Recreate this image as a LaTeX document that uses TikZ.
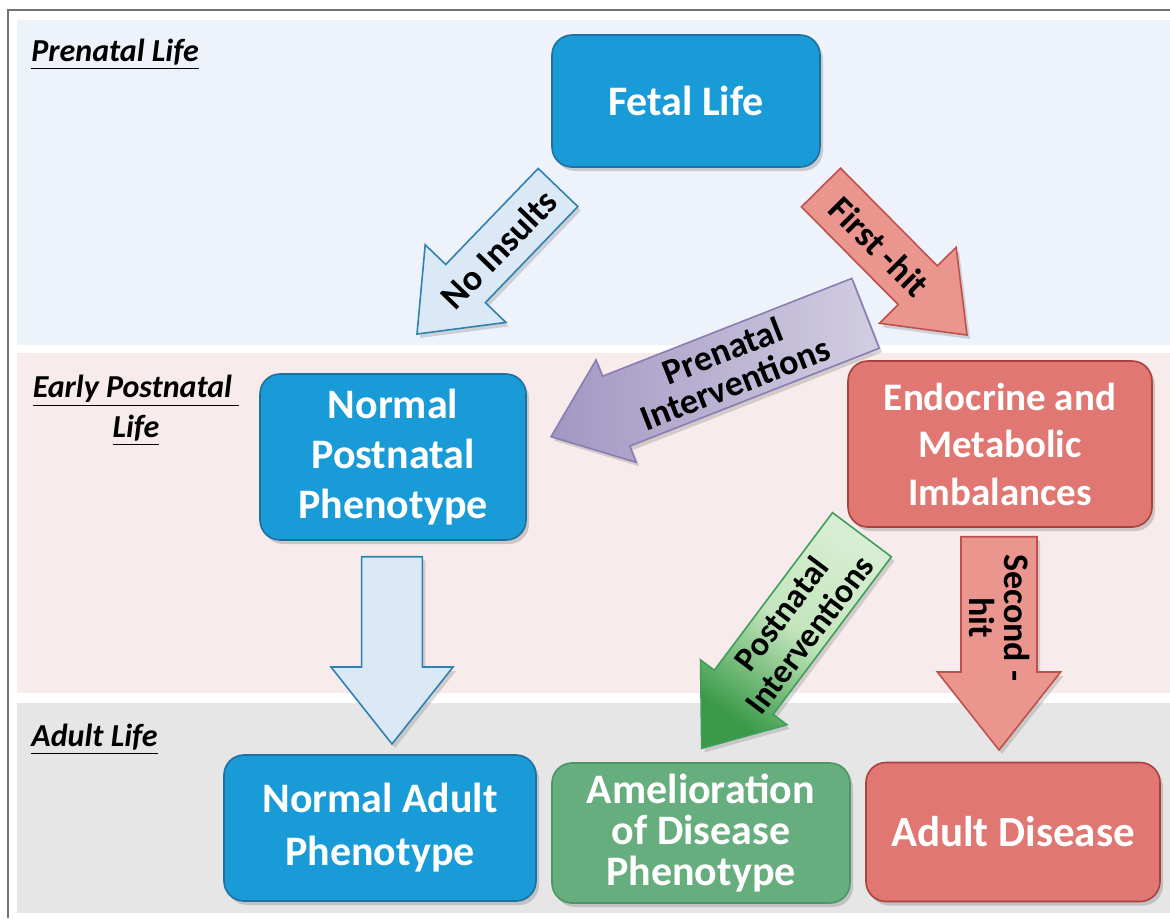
\documentclass[tikz,border=0pt]{standalone}
\usepackage{fontspec}
\setmainfont{Carlito}
\usepackage{tikz}
\usetikzlibrary{calc,shadows,positioning}
\definecolor{prenatbg}{HTML}{EEF2FA}
\definecolor{earlybg}{HTML}{F8EBEB}
\definecolor{adultbg}{HTML}{E6E6E6}
\definecolor{boxblue}{HTML}{189BD7}
\definecolor{boxblueln}{HTML}{1F6FA0}
\definecolor{boxred}{HTML}{E07772}
\definecolor{boxredln}{HTML}{A8423E}
\definecolor{boxgreen}{HTML}{67AE7E}
\definecolor{boxgreenln}{HTML}{4C9564}
\definecolor{arrblue}{HTML}{DBE8F6}
\definecolor{arrblueln}{HTML}{2F82B0}
\definecolor{arrred}{HTML}{EB958F}
\definecolor{arrredln}{HTML}{C0504D}
\definecolor{arrpurpD}{HTML}{A397C2}
\definecolor{arrpurpL}{HTML}{D2CEE2}
\definecolor{arrpurpln}{HTML}{8A7CB4}
\definecolor{arrgrnL}{HTML}{D8EED3}
\definecolor{arrgrnM}{HTML}{C3E5BC}
\definecolor{arrgrnD}{HTML}{3A9A48}
\definecolor{arrgrnln}{HTML}{3E9E5C}
% block arrow: style, tail, tip, shaft half width, head half width, head length
\newcommand{\blockarrow}[6]{%
  \coordinate (arrbase) at ($(#3)!#6!(#2)$);
  \draw[#1] ($(#2)!#4!90:(#3)$) -- ($(arrbase)!#4!-90:(#2)$)
    -- ($(arrbase)!#5!-90:(#2)$) -- (#3) -- ($(arrbase)!#5!90:(#2)$)
    -- ($(arrbase)!#4!90:(#2)$) -- ($(#2)!#4!-90:(#3)$) -- cycle;
}

\begin{document}
\begin{tikzpicture}[x=0.5pt,y=-0.5pt,
  box/.style={rounded corners=10pt,line width=0.8pt,text=white,align=center,inner sep=0pt,
              drop shadow={opacity=0.35,shadow xshift=1.5pt,shadow yshift=-2pt},
              font=\fontsize{21}{25}\selectfont\bfseries},
  bluebox/.style={box,fill=boxblue,draw=boxblueln},
  redbox/.style={box,fill=boxred,draw=boxredln},
  greenbox/.style={box,fill=boxgreen,draw=boxgreenln},
  arr/.style={line width=0.8pt,line join=miter,
              drop shadow={opacity=0.3,shadow xshift=1.5pt,shadow yshift=-2pt}},
  bluearr/.style={arr,fill=arrblue,draw=arrblueln},
  redarr/.style={arr,fill=arrred,draw=arrredln},
  purparr/.style={arr,draw=arrpurpln,left color=arrpurpD,right color=arrpurpL},
  grnarr/.style={arr,draw=arrgrnln,top color=arrgrnL,bottom color=arrgrnD,
                 middle color=arrgrnM,shading angle=-35},
  arrtxt/.style={font=\fontsize{18}{17.5}\selectfont\bfseries,align=center,inner sep=0pt},
  seclbl/.style={font=\fontsize{16}{20}\selectfont\bfseries\itshape,inner sep=0pt},
]
\useasboundingbox (0,0) rectangle (1170,918);
% ---------- bands ----------
\foreach \yt/\yb/\col in {20/345/prenatbg,353/693/earlybg,703/913/adultbg}
  \fill[\col] (17,\yt) rectangle (1170,\yb);
\draw[black!55,line width=0.8pt] (8,918) |- (1170,10);

\node[seclbl,anchor=base west] (lblpre) at (31,61.7) {\underline{Prenatal Life}};
\node[seclbl,align=center,anchor=north] (lblearly) at (136,375)
  {\underline{Early Postnatal\ }\\\underline{Life}};
\node[seclbl,anchor=base west] (lbladult) at (31,746.7) {\underline{Adult Life}};

% ---------- boxes ----------
\node[bluebox,minimum width=134pt,minimum height=66pt] (fetal) at (686,101) {Fetal Life};
\node[bluebox,minimum width=133pt,minimum height=83pt] (normpost) at (393,457)
  {Normal\\Postnatal\\Phenotype};
\node[redbox,minimum width=152pt,minimum height=83pt,
      font=\fontsize{19.5}{23.75}\selectfont\bfseries] (endo) at (1000,444)
  {Endocrine and\\Metabolic\\Imbalances};
\node[bluebox,minimum width=156pt,minimum height=73pt,
      font=\fontsize{21}{26.5}\selectfont\bfseries] (normadult) at (380,828)
  {Normal Adult\\Phenotype};
\node[greenbox,minimum width=149pt,minimum height=70pt,
      font=\fontsize{21}{20.5}\selectfont\bfseries] (amel) at (701,833)
  {Amelioration\\of Disease\\Phenotype};
\node[redbox,minimum width=147pt,minimum height=69.5pt,
      font=\fontsize{21.5}{25}\selectfont\bfseries] (adultdis) at (1013,832) {Adult Disease};

% ---------- arrows ----------
\coordinate (ni-tail) at (558,187.5);   \coordinate (ni-tip) at (417,334);
\coordinate (fh-tail) at (821,187.5);   \coordinate (fh-tip) at (967,335);
\coordinate (pi-tail) at (865.5,313.3); \coordinate (pi-tip) at (551,436.7);
\coordinate (pn-tail) at (862,534.7);   \coordinate (pn-tip) at (701.7,748.3);
\coordinate (sh-tail) at (999,536.7);   \coordinate (sh-tip) at (999,750);
\coordinate (na-tail) at (392,556.7);   \coordinate (na-tip) at (392,744);

\blockarrow{bluearr}{ni-tail}{ni-tip}{13.75pt}{28pt}{35pt}
\blockarrow{redarr}{fh-tail}{fh-tip}{13.75pt}{27pt}{35pt}
\blockarrow{purparr}{pi-tail}{pi-tip}{18.75pt}{27.5pt}{35pt}
\blockarrow{grnarr}{pn-tail}{pn-tip}{18.4pt}{27pt}{35pt}
\blockarrow{redarr}{sh-tail}{sh-tip}{19pt}{30.8pt}{39pt}
\blockarrow{bluearr}{na-tail}{na-tip}{15.2pt}{30.5pt}{38.5pt}

\node[arrtxt,rotate=46] (noins) at ($(ni-tail)!0.42!(ni-tip)$) {No Insults};
\node[arrtxt,rotate=-45] (firsthit) at ($(fh-tail)!0.40!(fh-tip)$) {First -hit};
\node[arrtxt,rotate=21.4] (prenint) at ($(pi-tail)!0.434!(pi-tip)$) {Prenatal\\Interventions};
\node[arrtxt,rotate=53,font=\fontsize{17}{17.5}\selectfont\bfseries] (postint)
  at ($(pn-tail)!0.418!(pn-tip)$) {Postnatal\\Interventions};
\node[arrtxt,rotate=-90] (sechit) at ($(sh-tail)!0.38!(sh-tip)$) {Second -\\hit};
\end{tikzpicture}
\end{document}
